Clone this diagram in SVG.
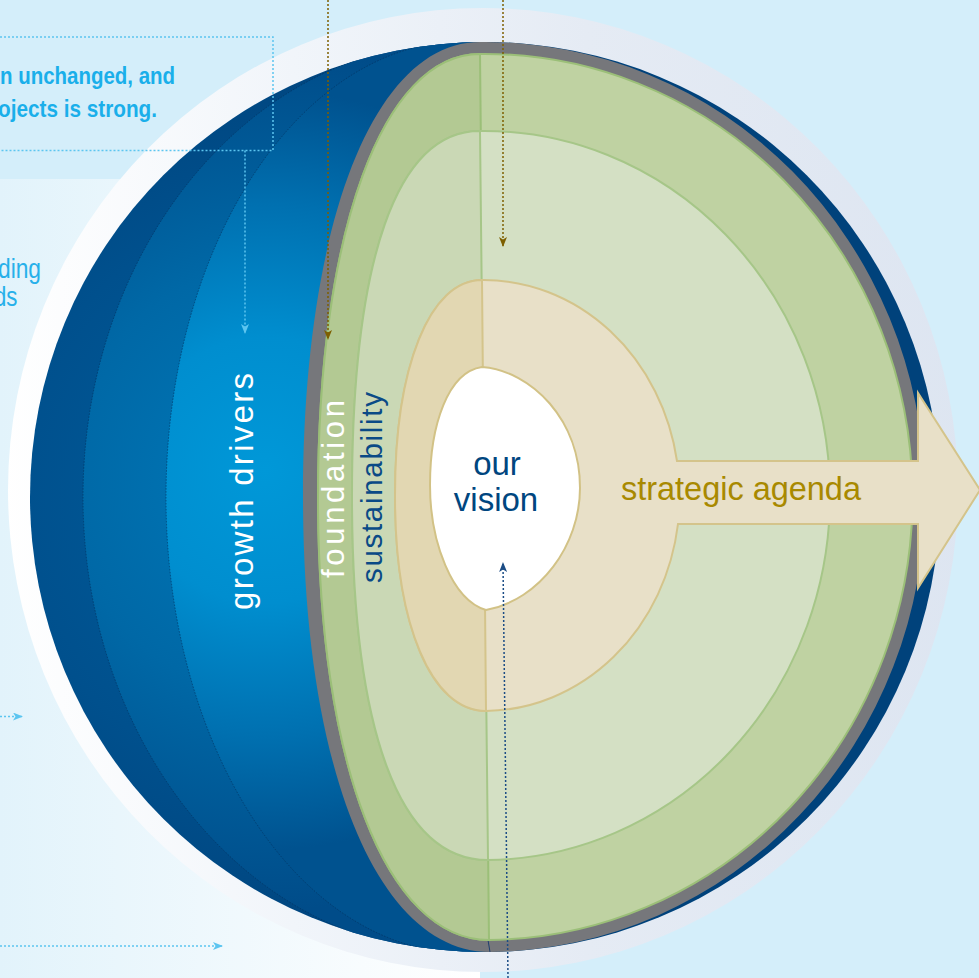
<svg xmlns="http://www.w3.org/2000/svg" width="979" height="978" viewBox="0 0 979 978">
<defs>
<style>
.t{font-family:"Liberation Sans",Arial,sans-serif}
.cyan{fill:#1aafea}
.dot{fill:none;stroke-width:1.5;stroke-dasharray:2 2}
.lb{stroke:#5cc5f0}
.gd{stroke:#7d5f00}
.nv{stroke:#1b4c85}
.mer{fill:none;stroke:#00335f;stroke-width:0.9;stroke-dasharray:1.5 1.5;opacity:0.7}
.gstroke{stroke:#9bbf78;stroke-width:2}
.mstroke{stroke:#a6c688;stroke-width:2}
.tstroke{stroke:#d4c48b;stroke-width:2}
</style>
<linearGradient id="panel" x1="0" y1="0" x2="480" y2="0" gradientUnits="userSpaceOnUse">
<stop offset="0" stop-color="#e2f3fb"/><stop offset="1" stop-color="#ffffff"/>
</linearGradient>
<linearGradient id="halo" x1="0" y1="0" x2="979" y2="0" gradientUnits="userSpaceOnUse">
<stop offset="0" stop-color="#ffffff"/><stop offset="0.3" stop-color="#f1f5fa"/><stop offset="0.6" stop-color="#e5ebf4"/><stop offset="1" stop-color="#dde5f1"/>
</linearGradient>
<radialGradient id="gore1" cx="300" cy="497" r="480" gradientUnits="userSpaceOnUse">
<stop offset="0" stop-color="#0060a0"/><stop offset="0.6" stop-color="#00508d"/><stop offset="1" stop-color="#00427b"/>
</radialGradient>
<radialGradient id="gore2" cx="280" cy="480" r="430" gradientUnits="userSpaceOnUse">
<stop offset="0" stop-color="#0079b9"/><stop offset="0.5" stop-color="#0068a6"/><stop offset="1" stop-color="#004c89"/>
</radialGradient>
<radialGradient id="gore3" cx="265" cy="470" r="380" gradientUnits="userSpaceOnUse">
<stop offset="0" stop-color="#0098d8"/><stop offset="0.35" stop-color="#008ecf"/><stop offset="0.7" stop-color="#0070b0"/><stop offset="1" stop-color="#00528f"/>
</radialGradient>
<clipPath id="sphereClip"><circle cx="485" cy="497" r="455"/></clipPath>
<marker id="aLB" viewBox="0 0 10 8" refX="9" refY="4" markerWidth="10" markerHeight="8" markerUnits="userSpaceOnUse" orient="auto"><path d="M0,0 L10,4 L0,8 L2.5,4 Z" fill="#5cc5f0"/></marker>
<marker id="aGD" viewBox="0 0 10 8" refX="9" refY="4" markerWidth="10" markerHeight="8" markerUnits="userSpaceOnUse" orient="auto"><path d="M0,0 L10,4 L0,8 L2.5,4 Z" fill="#7d5f00"/></marker>
<marker id="aNV" viewBox="0 0 10 8" refX="9" refY="4" markerWidth="10" markerHeight="8" markerUnits="userSpaceOnUse" orient="auto"><path d="M0,0 L10,4 L0,8 L2.5,4 Z" fill="#1b4c85"/></marker>
</defs>

<rect x="0" y="0" width="979" height="978" fill="#d4eefa"/>
<rect x="0" y="179" width="480" height="799" fill="url(#panel)"/>

<g id="halo-node"><ellipse cx="483" cy="490" rx="475" ry="482" fill="url(#halo)"/></g>

<g id="growth-drivers">
<circle cx="485" cy="497" r="455" fill="url(#gore1)"/>
<g clip-path="url(#sphereClip)">
<ellipse cx="465" cy="497" rx="382" ry="456" fill="url(#gore2)"/>
<ellipse cx="465" cy="497" rx="299" ry="456" fill="url(#gore3)"/>
<ellipse class="mer" cx="465" cy="497" rx="382" ry="456"/>
<ellipse class="mer" cx="465" cy="497" rx="299" ry="456"/>
</g>
<text class="t" transform="translate(253,610) rotate(-90)" font-size="33" textLength="237" lengthAdjust="spacing" fill="#ffffff">growth drivers</text>
</g>

<g id="shell">
<path d="M480,42 C373.8,42 303,224 303,497 C303,770 377.8,952 490,952 A440,455 0 0 0 480,42 Z" fill="#76777b"/>
<line x1="488" y1="940" x2="490" y2="952" stroke="#1d3f6e" stroke-width="1"/>
</g>

<g id="foundation">
<path class="gstroke" d="M480,54 C382.8,54 318,231.2 318,497 C318,762.8 386.4,940 489,940 A428,443 0 0 0 480,54 Z" fill="#bfd2a2"/>
<path class="gstroke" d="M480,54 C382.8,54 318,231.2 318,497 C318,762.8 386.4,940 489,940 Z" fill="#b3c993"/>
<text class="t" transform="translate(344,578) rotate(-90)" font-size="31" textLength="178" lengthAdjust="spacing" fill="#ffffff">foundation</text>
</g>

<g id="sustainability">
<path class="mstroke" d="M480,131 C396.8,131 352,258.6 352,495.5 C352,732.4 399.6,860 488,860 A346,364.5 0 0 0 480,131 Z" fill="#d4e0c4"/>
<path class="mstroke" d="M480,131 C396.8,131 352,258.6 352,495.5 C352,732.4 399.6,860 488,860 Z" fill="#cad8b5"/>
<text class="t" transform="translate(382,583) rotate(-90)" font-size="29.5" textLength="191" lengthAdjust="spacing" fill="#0a4a86">sustainability</text>
</g>

<g id="strategic-agenda">
<path class="tstroke" d="M482,280 C429.8,280 395,366.2 395,495.5 C395,624.8 431.4,711 486,711 A196,215.5 0 0 0 678,524 L918,524 L918,588 L980,490 L918,393 L918,461 L677,461 A196,215.5 0 0 0 482,280 Z" fill="#e8e0c8"/>
<path class="tstroke" d="M482,280 C429.8,280 395,366.2 395,495.5 C395,624.8 431.4,711 486,711 Z" fill="#e2d7b2"/>
<text class="t" x="621" y="500" font-size="32.5" textLength="240" lengthAdjust="spacing" fill="#a88900">strategic agenda</text>
</g>

<g id="our-vision">
<path d="M482,367 C532,371 580,420 580,488 C580,545 540,600 486,610 C452,600 430,542 430,485 C430,425 448,372 482,367 Z" fill="#ffffff" stroke="#d2c286" stroke-width="2"/>
<text class="t" x="497" y="475" text-anchor="middle" font-size="33" fill="#00467f">our</text>
<text class="t" x="496" y="511" text-anchor="middle" font-size="33" fill="#00467f">vision</text>
</g>

<g id="side-texts">
<text class="t cyan" x="0" y="84" font-size="24" font-weight="bold" textLength="175" lengthAdjust="spacingAndGlyphs">n unchanged, and</text>
<text class="t cyan" x="-2" y="116.5" font-size="24" font-weight="bold" textLength="159" lengthAdjust="spacingAndGlyphs">ojects is strong.</text>
<text class="t" x="-2" y="278" font-size="27" textLength="43" lengthAdjust="spacingAndGlyphs" fill="#27b0ea">ding</text>
<text class="t" x="-6" y="305.5" font-size="27" textLength="23.5" lengthAdjust="spacingAndGlyphs" fill="#27b0ea">ds</text>
</g>

<g id="connectors">
<path class="dot lb" d="M0,37 H273 V150.5 H0"/>
<path class="dot lb" d="M245,150.5 V333" marker-end="url(#aLB)"/>
<path class="dot lb" d="M0,716.5 H22" marker-end="url(#aLB)"/>
<path class="dot lb" d="M0,946 H222" marker-end="url(#aLB)"/>
<path class="dot gd" d="M328,0 V339" marker-end="url(#aGD)"/>
<path class="dot gd" d="M503,0 V246" marker-end="url(#aGD)"/>
<path class="dot nv" d="M508,978 L503,563" marker-end="url(#aNV)"/>
</g>
</svg>
